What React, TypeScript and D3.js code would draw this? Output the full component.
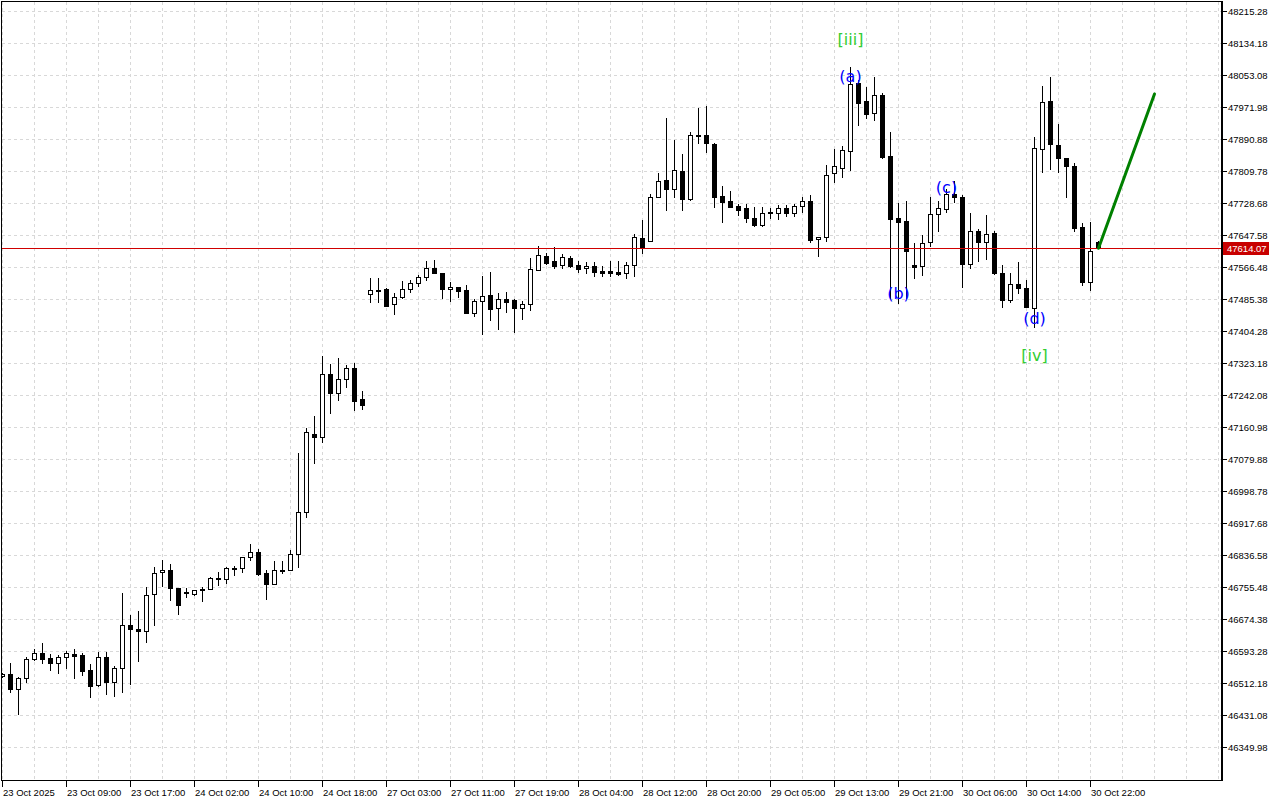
import React from 'react';
import * as d3 from 'd3';

const opens = [
  46529.8, 46534.9, 46496.8, 46524.7, 46572.9, 46588.1, 46575.4, 46562.7, 46577.9, 46585.5,
  46583.0, 46545.0, 46507.0, 46577.9, 46514.6, 46550.1, 46659.0, 46648.9, 46643.8, 46737.6,
  46793.4, 46798.4, 46752.8, 46742.7, 46737.6, 46750.3, 46750.3, 46778.2, 46775.6, 46803.5,
  46803.5, 46831.4, 46844.1, 46790.8, 46763.0, 46798.4, 46798.4, 46839.0, 46945.4, 47143.2,
  47135.6, 47295.3, 47247.2, 47282.6, 47310.5, 47231.9, 47498.0, 47508.1, 47510.7, 47472.7,
  47490.4, 47510.7, 47525.9, 47541.1, 47563.9, 47551.3, 47510.7, 47515.8, 47508.1, 47449.8,
  47480.3, 47495.5, 47462.5, 47485.3, 47482.8, 47462.5, 47472.7, 47558.9, 47594.3, 47581.7,
  47571.5, 47589.3, 47571.5, 47563.9, 47569.0, 47556.3, 47556.3, 47553.8, 47551.3, 47571.5,
  47640.0, 47632.4, 47743.9, 47786.9, 47764.1, 47809.8, 47738.8, 47901.0, 47901.0, 47878.2,
  47746.4, 47733.8, 47721.1, 47716.0, 47690.7, 47672.9, 47705.9, 47703.4, 47716.0, 47703.4,
  47721.1, 47733.8, 47637.4, 47642.5, 47804.7, 47817.4, 47860.4, 48032.8, 47987.2, 47956.8,
  48002.4, 47847.8, 47690.7, 47683.1, 47571.5, 47569.0, 47629.8, 47700.8, 47713.5, 47751.5,
  47743.9, 47574.1, 47657.7, 47629.8, 47652.6, 47551.3, 47482.8, 47523.4, 47513.2, 47462.5,
  47865.5, 47987.2, 47875.6, 47842.7, 47822.4, 47667.9, 47528.4, 47629.8,
];
const highs = [
  46537.4, 46562.7, 46527.3, 46577.9, 46598.2, 46613.4, 46585.5, 46583.0, 46593.1, 46598.2,
  46588.1, 46560.2, 46590.6, 46590.6, 46555.1, 46740.1, 46684.4, 46694.5, 46755.3, 46806.0,
  46823.8, 46813.6, 46752.8, 46752.8, 46747.7, 46755.3, 46780.7, 46793.4, 46806.0, 46808.6,
  46831.4, 46864.3, 46851.7, 46798.4, 46821.2, 46821.2, 46849.1, 47094.9, 47158.4, 47188.8,
  47340.9, 47320.6, 47335.8, 47318.1, 47323.2, 47252.2, 47538.6, 47538.6, 47513.2, 47500.5,
  47531.0, 47533.5, 47546.2, 47581.7, 47584.2, 47551.3, 47528.4, 47515.8, 47520.8, 47485.3,
  47543.6, 47553.8, 47500.5, 47503.1, 47485.3, 47480.3, 47589.3, 47619.7, 47602.0, 47617.2,
  47599.4, 47594.3, 47581.7, 47579.1, 47579.1, 47569.0, 47581.7, 47581.7, 47579.1, 47650.1,
  47685.6, 47751.5, 47804.7, 47944.1, 47888.3, 47852.8, 47908.6, 47969.4, 47974.5, 47880.7,
  47771.7, 47759.1, 47726.2, 47726.2, 47718.6, 47718.6, 47716.0, 47723.6, 47723.6, 47726.2,
  47743.9, 47749.0, 47642.5, 47825.0, 47865.5, 47873.1, 48073.3, 48040.4, 48022.6, 48048.0,
  48007.4, 47908.6, 47728.7, 47733.8, 47627.3, 47647.6, 47743.9, 47733.8, 47764.1, 47784.4,
  47749.0, 47703.4, 47662.8, 47698.3, 47657.7, 47571.5, 47551.3, 47579.1, 47533.5, 47895.9,
  48025.2, 48048.0, 47928.9, 47842.7, 47830.0, 47678.0, 47680.5, 47632.4,
];
const lows = [
  46527.3, 46489.2, 46433.5, 46514.6, 46570.3, 46562.7, 46545.0, 46537.4, 46550.1, 46524.7,
  46532.3, 46476.6, 46504.4, 46484.2, 46479.1, 46489.2, 46509.5, 46567.8, 46616.0, 46659.0,
  46757.9, 46722.4, 46686.9, 46730.0, 46735.1, 46719.9, 46750.3, 46760.4, 46765.5, 46785.8,
  46793.4, 46823.8, 46785.8, 46724.9, 46763.0, 46790.8, 46798.4, 46806.0, 46932.7, 47069.6,
  47122.9, 47196.5, 47229.4, 47262.4, 47204.0, 47206.6, 47477.7, 47477.7, 47467.6, 47447.3,
  47487.9, 47503.1, 47518.3, 47533.5, 47551.3, 47487.9, 47480.3, 47490.4, 47449.8, 47442.2,
  47396.6, 47432.1, 47409.3, 47452.4, 47401.7, 47434.6, 47457.4, 47558.9, 47574.1, 47563.9,
  47563.9, 47566.5, 47553.8, 47551.3, 47543.6, 47543.6, 47543.6, 47546.2, 47538.6, 47543.6,
  47602.0, 47632.4, 47743.9, 47711.0, 47743.9, 47711.0, 47736.3, 47880.7, 47857.9, 47718.6,
  47680.5, 47718.6, 47698.3, 47680.5, 47670.4, 47670.4, 47690.7, 47688.1, 47695.8, 47695.8,
  47705.9, 47629.8, 47594.3, 47632.4, 47781.9, 47794.6, 47812.3, 47926.4, 47944.1, 47939.0,
  47842.7, 47487.9, 47475.2, 47487.9, 47538.6, 47546.2, 47619.7, 47657.7, 47705.9, 47731.2,
  47515.8, 47563.9, 47581.7, 47586.7, 47548.7, 47465.0, 47477.7, 47500.5, 47465.0, 47414.3,
  47807.2, 47814.8, 47807.2, 47743.9, 47657.7, 47520.8, 47508.1, 47614.1,
];
const closes = [
  46534.9, 46496.8, 46524.7, 46572.9, 46588.1, 46572.9, 46562.7, 46577.9, 46588.1, 46580.5,
  46542.5, 46504.4, 46577.9, 46514.6, 46550.1, 46659.0, 46648.9, 46643.8, 46735.1, 46790.8,
  46798.4, 46752.8, 46709.7, 46740.1, 46747.7, 46747.7, 46778.2, 46775.6, 46803.5, 46801.0,
  46831.4, 46844.1, 46788.3, 46763.0, 46798.4, 46797.0, 46839.0, 46945.4, 47148.3, 47135.6,
  47295.3, 47247.2, 47282.6, 47310.5, 47226.8, 47216.7, 47508.1, 47505.6, 47467.6, 47490.4,
  47510.7, 47525.9, 47541.1, 47563.9, 47551.3, 47510.7, 47515.8, 47505.6, 47449.8, 47480.3,
  47492.9, 47460.0, 47485.3, 47477.7, 47462.5, 47472.7, 47561.4, 47596.9, 47576.6, 47569.0,
  47591.8, 47569.0, 47561.4, 47569.0, 47553.8, 47551.3, 47551.3, 47548.7, 47571.5, 47642.5,
  47617.2, 47743.9, 47784.4, 47764.1, 47812.3, 47738.8, 47901.0, 47898.5, 47880.7, 47743.9,
  47731.2, 47718.6, 47711.0, 47690.7, 47672.9, 47703.4, 47703.4, 47716.0, 47703.4, 47721.1,
  47733.8, 47634.9, 47642.5, 47799.6, 47822.4, 47863.0, 48030.3, 47982.1, 47954.2, 48002.4,
  47845.2, 47688.1, 47680.5, 47607.0, 47566.5, 47627.3, 47700.8, 47716.0, 47751.5, 47743.9,
  47574.1, 47657.7, 47629.8, 47650.1, 47551.3, 47482.8, 47523.4, 47513.2, 47465.0, 47868.1,
  47984.6, 47878.2, 47842.7, 47822.4, 47665.3, 47528.4, 47607.0, 47614.1,
];

const priceTickLabels = [
  '48215.28', '48134.18', '48053.08', '47971.98', '47890.88', '47809.78', '47728.68', '47647.58',
  '47566.48', '47485.38', '47404.28', '47323.18', '47242.08', '47160.98', '47079.88', '46998.78',
  '46917.68', '46836.58', '46755.48', '46674.38', '46593.28', '46512.18', '46431.08', '46349.98',
];

const timeLabels = [
  '23 Oct 2025', '23 Oct 09:00', '23 Oct 17:00', '24 Oct 02:00', '24 Oct 10:00', '24 Oct 18:00',
  '27 Oct 03:00', '27 Oct 11:00', '27 Oct 19:00', '28 Oct 04:00', '28 Oct 12:00', '28 Oct 20:00',
  '29 Oct 05:00', '29 Oct 13:00', '29 Oct 21:00', '30 Oct 06:00', '30 Oct 14:00', '30 Oct 22:00',
];
const timeLabelStep = 8;

const lastPrice = 47614.07;

const waveText = ['[iii]', '(a)', '(b)', '(c)', '(d)', '[iv]'];
const waveIdx = [106, 106, 112, 118, 129, 129];
const wavePrice = [48141.8, 48050.5, 47500.5, 47769.2, 47437.2, 47343.4];
const waveColor = ['#32cd32', '#0000ff', '#0000ff', '#0000ff', '#0000ff', '#32cd32'];

const arrowIdx = [137, 144];
const arrowPrice = [47614.07, 48005];

const AXIS_FONT = '"Liberation Sans", Arial, sans-serif';

export default function App() {
  const W = 1280;
  const H = 800;
  const plotRight = 1221;
  const plotBottom = 780;

  const x = d3.scaleLinear().domain([0, 1]).range([2.5, 10.5]);
  const y = d3.scaleLinear().domain([46349.98, 48215.28]).range([747, 11]);

  const ry = (v: number) => Math.round(y(v));

  const vGrid: number[] = [];
  for (let i = 0; x(i) < plotRight - 2; i += 4) vGrid.push(i);

  const lastY = ry(lastPrice) + 0.5;

  const candles = opens.map((o, i) => {
    const c = closes[i];
    const hi = highs[i];
    const lo = lows[i];
    const col = Math.floor(x(i));
    const top = ry(Math.max(o, c));
    const bot = ry(Math.min(o, c));
    const bull = c > o;
    return (
      <g key={i}>
        <line x1={col + 0.5} x2={col + 0.5} y1={ry(hi)} y2={ry(lo) + 1} stroke="#000" strokeWidth={1} />
        {bot - top < 1 ? (
          <line x1={col - 2} x2={col + 3} y1={top + 0.5} y2={top + 0.5} stroke="#000" strokeWidth={1} />
        ) : (
          <rect x={col - 1.5} y={top + 0.5} width={4} height={bot - top} fill={bull ? '#fff' : '#000'} stroke="#000" strokeWidth={1} />
        )}
      </g>
    );
  });

  return (
    <svg width={W} height={H} style={{ position: 'absolute', left: 0, top: 0, background: '#fff' }}>
      <defs>
        <clipPath id="plot">
          <rect x={2} y={2} width={plotRight - 2} height={plotBottom - 2} />
        </clipPath>
      </defs>
      <rect x={0} y={0} width={W} height={H} fill="#fff" />
      <g clipPath="url(#plot)">
        {vGrid.map((i) => (
          <line key={'v' + i} x1={Math.floor(x(i)) + 0.5} x2={Math.floor(x(i)) + 0.5} y1={2} y2={plotBottom}
            stroke="#d8d8d8" strokeWidth={1} strokeDasharray="3,3" />
        ))}
        {priceTickLabels.map((s) => (
          <line key={'h' + s} x1={2} x2={plotRight} y1={ry(+s) + 0.5} y2={ry(+s) + 0.5}
            stroke="#d8d8d8" strokeWidth={1} strokeDasharray="3,3" />
        ))}
        {candles}
        <line x1={2} x2={plotRight} y1={lastY} y2={lastY} stroke="#d00000" strokeWidth={1} />
        <line x1={x(arrowIdx[0])} y1={y(arrowPrice[0])} x2={x(arrowIdx[1])} y2={y(arrowPrice[1])}
          stroke="#008000" strokeWidth={3} strokeLinecap="round" />
        {waveText.map((t, k) => (
          <text key={'w' + k} x={x(waveIdx[k])} y={y(wavePrice[k])} fill={waveColor[k]}
            fontFamily='"DejaVu Sans", sans-serif' fontSize={16} textAnchor="middle" dominantBaseline="central">
            {t}
          </text>
        ))}
      </g>
      {/* frame */}
      <line x1={1.5} x2={1.5} y1={1} y2={plotBottom + 1} stroke="#000" strokeWidth={1} />
      <line x1={1} x2={plotRight + 1} y1={1.5} y2={1.5} stroke="#000" strokeWidth={1} />
      <line x1={1} x2={plotRight + 1} y1={plotBottom + 0.5} y2={plotBottom + 0.5} stroke="#000" strokeWidth={1} />
      <rect x={plotRight} y={1} width={2} height={plotBottom} fill="#000" />
      {/* price axis */}
      {priceTickLabels.map((s) => (
        <g key={'pt' + s}>
          <line x1={plotRight + 2} x2={plotRight + 6} y1={ry(+s) + 0.5} y2={ry(+s) + 0.5} stroke="#000" strokeWidth={1} />
          <text x={plotRight + 7} y={ry(+s) + 0.5} fontFamily={AXIS_FONT} fontSize={9.5} fill="#000" dominantBaseline="central">
            {s}
          </text>
        </g>
      ))}
      <rect x={plotRight + 2} y={lastY - 6.5} width={46} height={13} fill="#c80000" />
      <text x={plotRight + 6} y={lastY} fontFamily={AXIS_FONT} fontSize={9.5} fill="#fff" dominantBaseline="central">
        {lastPrice.toFixed(2)}
      </text>
      {/* time axis */}
      {timeLabels.map((t, k) => {
        const col = Math.floor(x(k * timeLabelStep));
        return (
          <g key={'tt' + k}>
            <line x1={col + 0.5} x2={col + 0.5} y1={plotBottom + 1} y2={plotBottom + 7} stroke="#000" strokeWidth={1} />
            <text x={col + 1} y={796} fontFamily={AXIS_FONT} fontSize={9.5} fill="#000">
              {t}
            </text>
          </g>
        );
      })}
    </svg>
  );
}
